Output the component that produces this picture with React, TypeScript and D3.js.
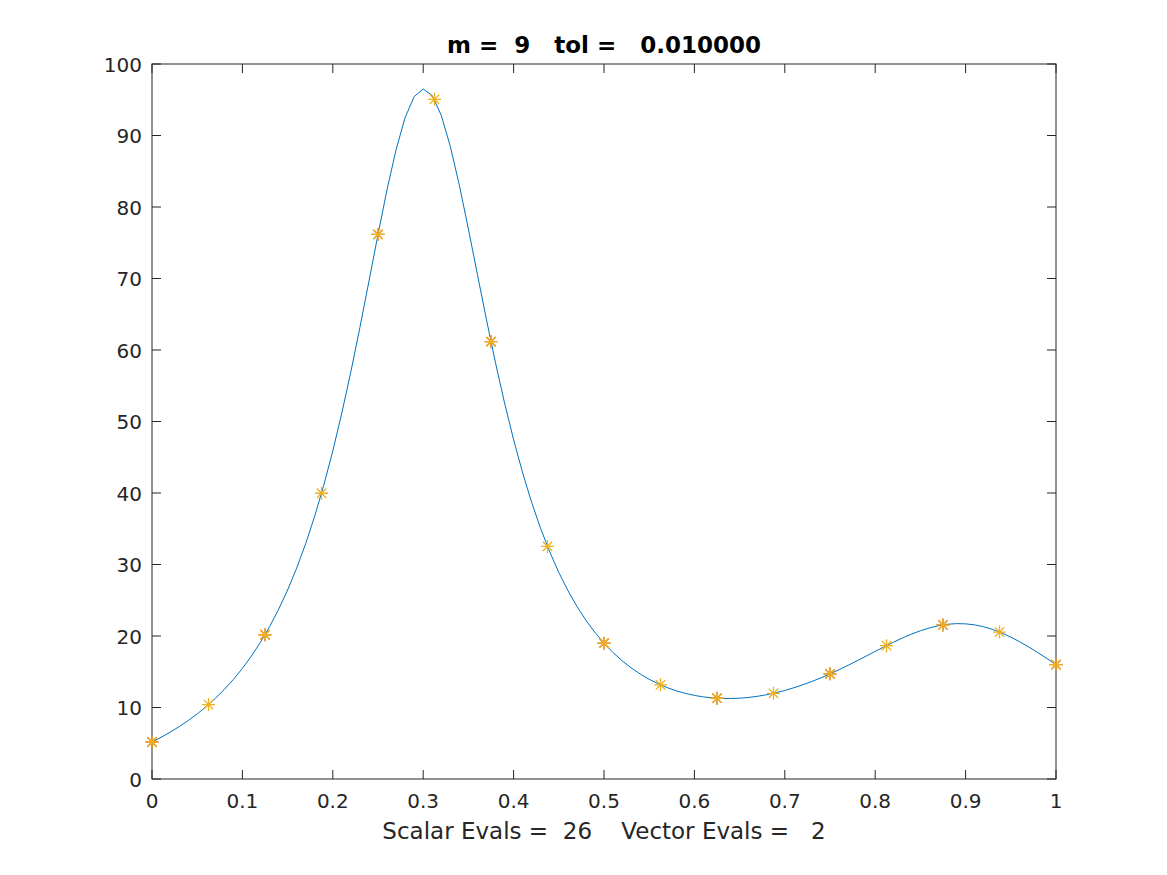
import React from "react";
import * as d3 from "d3";

const curveX: number[] = [
  0.00, 0.01, 0.02, 0.03, 0.04, 0.05, 0.06, 0.07, 0.08, 0.09,
  0.10, 0.11, 0.12, 0.13, 0.14, 0.15, 0.16, 0.17, 0.18, 0.19,
  0.20, 0.21, 0.22, 0.23, 0.24, 0.25, 0.26, 0.27, 0.28, 0.29,
  0.30, 0.31, 0.32, 0.33, 0.34, 0.35, 0.36, 0.37, 0.38, 0.39,
  0.40, 0.41, 0.42, 0.43, 0.44, 0.45, 0.46, 0.47, 0.48, 0.49,
  0.50, 0.51, 0.52, 0.53, 0.54, 0.55, 0.56, 0.57, 0.58, 0.59,
  0.60, 0.61, 0.62, 0.63, 0.64, 0.65, 0.66, 0.67, 0.68, 0.69,
  0.70, 0.71, 0.72, 0.73, 0.74, 0.75, 0.76, 0.77, 0.78, 0.79,
  0.80, 0.81, 0.82, 0.83, 0.84, 0.85, 0.86, 0.87, 0.88, 0.89,
  0.90, 0.91, 0.92, 0.93, 0.94, 0.95, 0.96, 0.97, 0.98, 0.99,
  1.00,
];
const curveY: number[] = [
  5.18, 5.83, 6.54, 7.32, 8.17, 9.10, 10.13, 11.27, 12.52, 13.92,
  15.47, 17.20, 19.12, 21.29, 23.71, 26.43, 29.48, 32.92, 36.77, 41.09,
  45.89, 51.19, 56.97, 63.16, 69.63, 76.16, 82.43, 88.03, 92.51, 95.44,
  96.50, 95.59, 92.81, 88.48, 83.04, 76.92, 70.55, 64.23, 58.20, 52.58,
  47.45, 42.82, 38.68, 35.00, 31.76, 28.89, 26.37, 24.16, 22.20, 20.50,
  19.00, 17.69, 16.54, 15.55, 14.69, 13.94, 13.32, 12.78, 12.33, 11.98,
  11.69, 11.48, 11.34, 11.27, 11.26, 11.30, 11.41, 11.57, 11.79, 12.06,
  12.38, 12.76, 13.18, 13.64, 14.15, 14.71, 15.29, 15.90, 16.54, 17.19,
  17.85, 18.49, 19.12, 19.71, 20.26, 20.73, 21.13, 21.44, 21.64, 21.73,
  21.70, 21.56, 21.29, 20.91, 20.42, 19.84, 19.18, 18.45, 17.67, 16.85,
  16.00,
];

// coarse points (orange) - m = 9
const coarseX: number[] = [0, 0.125, 0.25, 0.375, 0.5, 0.625, 0.75, 0.875, 1];
const coarseY: number[] = [5.176, 20.176, 76.162, 61.168, 19.0, 11.297, 14.706, 21.551, 16.0];

// all points (yellow)
const fineX: number[] = [
  0, 0.0625, 0.125, 0.1875, 0.25, 0.3125, 0.375, 0.4375, 0.5,
  0.5625, 0.625, 0.6875, 0.75, 0.8125, 0.875, 0.9375, 1,
];
const fineY: number[] = [
  5.176, 10.407, 20.176, 39.964, 76.162, 95.058, 61.168, 32.533, 19.0,
  13.17, 11.297, 11.987, 14.706, 18.652, 21.551, 20.552, 16.0,
];

const xTicks: number[] = [0, 0.1, 0.2, 0.3, 0.4, 0.5, 0.6, 0.7, 0.8, 0.9, 1];
const yTicks: number[] = [0, 10, 20, 30, 40, 50, 60, 70, 80, 90, 100];
const titleText = "m =  9   tol =   0.010000";
const xLabelText = "Scalar Evals =  26    Vector Evals =   2";

const W = 1167;
const H = 875;
const L = 152;
const R = 1056;
const T = 64;
const B = 779;
const FONT = "'DejaVu Sans', sans-serif";
const AX = "#262626";

function Star({ cx, cy, color }: { cx: number; cy: number; color: string }) {
  const r = 6.5;
  const d = r * 0.72;
  const p = `M${cx - r},${cy}L${cx + r},${cy}M${cx},${cy - r}L${cx},${cy + r}M${cx - d},${cy - d}L${cx + d},${cy + d}M${cx - d},${cy + d}L${cx + d},${cy - d}`;
  return <path d={p} stroke={color} strokeWidth={1.3} fill="none" />;
}

export default function App() {
  const x = d3.scaleLinear().domain([0, 1]).range([L, R]);
  const y = d3.scaleLinear().domain([0, 100]).range([B, T]);
  const line = d3
    .line<number>()
    .x((_, i) => x(curveX[i]))
    .y((v) => y(v));
  const tl = 9;
  return (
    <svg
      width={W}
      height={H}
      style={{ position: "absolute", left: 0, top: 0, background: "#fff" }}
    >
      <rect x={0} y={0} width={W} height={H} fill="#fff" />
      <defs>
        <clipPath id="clip">
          <rect x={L - 10} y={T - 10} width={R - L + 20} height={B - T + 20} />
        </clipPath>
      </defs>
      {xTicks.map((t) => (
        <g key={"xt" + t}>
          <line x1={x(t)} x2={x(t)} y1={B} y2={B - tl} stroke={AX} strokeWidth={1} />
          <line x1={x(t)} x2={x(t)} y1={T} y2={T + tl} stroke={AX} strokeWidth={1} />
          <text
            x={x(t)}
            y={B + 29}
            textAnchor="middle"
            fontFamily={FONT}
            fontSize={20}
            fill={AX}
          >
            {d3.format("~g")(t)}
          </text>
        </g>
      ))}
      {yTicks.map((t) => (
        <g key={"yt" + t}>
          <line x1={L} x2={L + tl} y1={y(t)} y2={y(t)} stroke={AX} strokeWidth={1} />
          <line x1={R} x2={R - tl} y1={y(t)} y2={y(t)} stroke={AX} strokeWidth={1} />
          <text
            x={L - 10}
            y={y(t) + 7.5}
            textAnchor="end"
            fontFamily={FONT}
            fontSize={20}
            fill={AX}
          >
            {t}
          </text>
        </g>
      ))}
      <rect x={L} y={T} width={R - L} height={B - T} fill="none" stroke={AX} strokeWidth={1} />
      <g clipPath="url(#clip)">
        <path d={line(curveY) || ""} fill="none" stroke="#0072BD" strokeWidth={1} />
        {coarseX.map((v, i) => (
          <Star key={"c" + i} cx={x(v)} cy={y(coarseY[i])} color="#D95319" />
        ))}
        {fineX.map((v, i) => (
          <Star key={"f" + i} cx={x(v)} cy={y(fineY[i])} color="#EDB120" />
        ))}
      </g>
      <text
        x={(L + R) / 2}
        y={53}
        textAnchor="middle"
        fontFamily={FONT}
        fontSize={23}
        fontWeight="bold"
        fill="#000"
        style={{ whiteSpace: "pre" }}
      >
        {titleText}
      </text>
      <text
        x={(L + R) / 2}
        y={839}
        textAnchor="middle"
        fontFamily={FONT}
        fontSize={23}
        fill={AX}
        style={{ whiteSpace: "pre" }}
      >
        {xLabelText}
      </text>
    </svg>
  );
}
